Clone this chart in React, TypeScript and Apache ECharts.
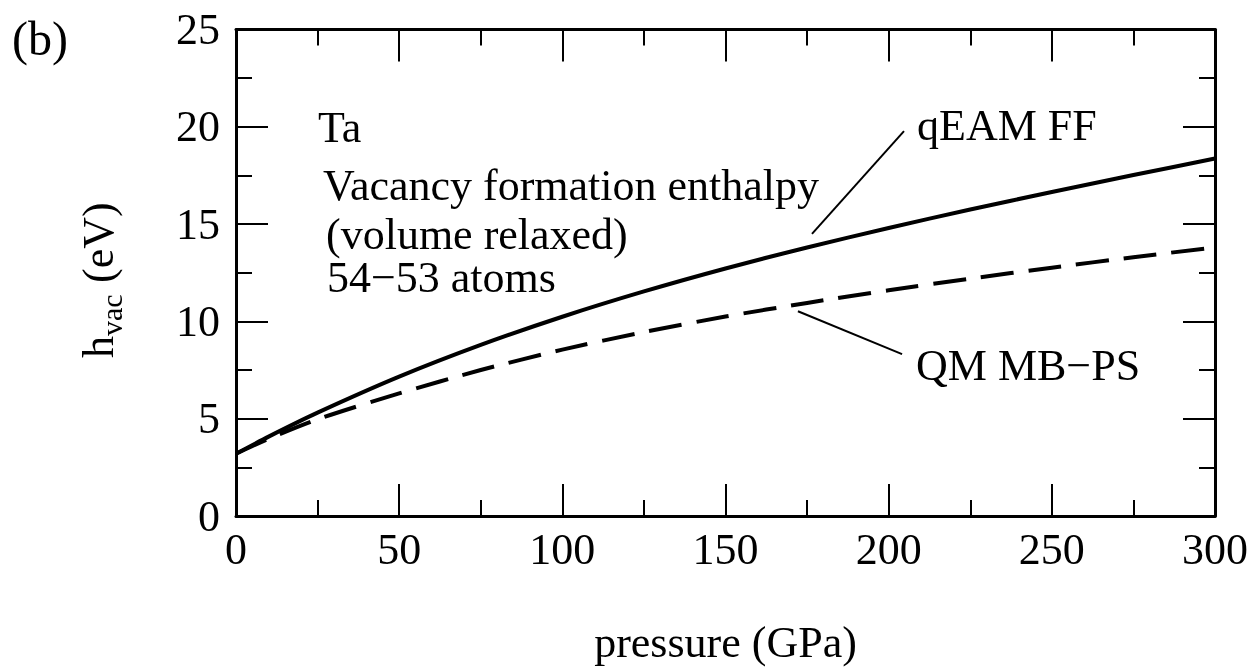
import React, { useEffect, useRef } from "react";
import * as echarts from "echarts";

const pressure = [0, 10, 25, 50, 75, 100, 125, 150, 175, 200, 225, 250, 275, 300];
const qeamFF = [3.2, 4.08, 5.31, 7.16, 8.79, 10.24, 11.54, 12.72, 13.8, 14.8, 15.75, 16.65, 17.52, 18.37];
const qmMBPS = [3.2, 3.97, 4.97, 6.3, 7.5, 8.55, 9.45, 10.25, 10.95, 11.6, 12.2, 12.76, 13.3, 13.8];

const X_MIN = 0, X_MAX = 300, X_STEP = 50;
const Y_MIN = 0, Y_MAX = 25, Y_STEP = 5;

const pointerFF = [[204.7, 19.78], [176.5, 14.5]];
const pointerQM = [[172.2, 10.52], [204.1, 8.32]];

const FONT = "Liberation Serif";
const FS = 44;

function axisParts() {
  return {
    axisLine: { show: true, onZero: false, lineStyle: { color: "#000", width: 3 } },
    axisTick: { show: true, inside: true, length: 32, lineStyle: { color: "#000", width: 2 } },
    minorTick: { show: true, splitNumber: 2, length: 16, lineStyle: { color: "#000", width: 2 } },
    splitLine: { show: false },
  };
}

function makeOption() {
  const txt = (text: string, x: number, baseline: number, size = FS) => ({
    type: "text",
    x,
    y: baseline - 0.3375 * size,
    style: { text, fontSize: size, fontFamily: FONT, fill: "#000", verticalAlign: "middle", align: "left" },
    silent: true,
  });
  return {
    animation: false,
    grid: { left: 236, top: 29.5, right: 40, bottom: 151 },
    xAxis: [
      {
        type: "value", position: "bottom", min: X_MIN, max: X_MAX, interval: X_STEP, ...axisParts(),
        axisLabel: { show: true, margin: 11, fontSize: FS, fontFamily: FONT, color: "#000" },
        name: "pressure (GPa)", nameLocation: "middle", nameGap: 104,
        nameTextStyle: { fontSize: FS, fontFamily: FONT, color: "#000" },
      },
      { type: "value", position: "top", min: X_MIN, max: X_MAX, interval: X_STEP, ...axisParts(), axisLabel: { show: false } },
    ],
    yAxis: [
      {
        type: "value", position: "left", min: Y_MIN, max: Y_MAX, interval: Y_STEP, ...axisParts(),
        axisLabel: { show: true, margin: 16, fontSize: FS, fontFamily: FONT, color: "#000" },
      },
      { type: "value", position: "right", min: Y_MIN, max: Y_MAX, interval: Y_STEP, ...axisParts(), axisLabel: { show: false } },
    ],
    series: [
      {
        name: "qEAM FF", type: "line", data: pressure.map((p, i) => [p, qeamFF[i]]), smooth: 0.25, showSymbol: false,
        lineStyle: { color: "#000", width: 4 },
        markLine: {
          silent: true, symbol: "none", label: { show: false },
          lineStyle: { color: "#000", width: 2, type: "solid" },
          data: [[{ coord: pointerFF[0] }, { coord: pointerFF[1] }]],
        },
      },
      {
        name: "QM MB-PS", type: "line", data: pressure.map((p, i) => [p, qmMBPS[i]]), smooth: 0.25, showSymbol: false,
        lineStyle: { color: "#000", width: 4, type: [33, 15] },
        markLine: {
          silent: true, symbol: "none", label: { show: false },
          lineStyle: { color: "#000", width: 2, type: "solid" },
          data: [[{ coord: pointerQM[0] }, { coord: pointerQM[1] }]],
        },
      },
    ],
    graphic: [
      txt("(b)", 12, 55, 48),
      txt("Ta", 318, 142),
      txt("Vacancy formation enthalpy", 323, 200),
      txt("(volume relaxed)", 326, 249),
      txt("54\u221253 atoms", 327, 292),
      txt("qEAM FF", 917, 140),
      txt("QM MB\u2212PS", 916, 380),
      {
        type: "group", x: 113, y: 278, rotation: Math.PI / 2, silent: true,
        children: [
          { type: "text", x: -80, y: -0.3375 * FS, style: { text: "h", fontSize: FS, fontFamily: FONT, fill: "#000", verticalAlign: "middle" } },
          { type: "text", x: -58, y: 9 - 0.3375 * 30, style: { text: "vac", fontSize: 30, fontFamily: FONT, fill: "#000", verticalAlign: "middle" } },
          { type: "text", x: -16, y: -0.3375 * FS, style: { text: " (eV)", fontSize: FS, fontFamily: FONT, fill: "#000", verticalAlign: "middle" } },
        ],
      },
    ],
  };
}

export default function App() {
  const ref = useRef<HTMLDivElement>(null);
  useEffect(() => {
    if (!ref.current) return;
    const chart = echarts.init(ref.current, null, { renderer: "svg" });
    chart.setOption(makeOption() as any);
    return () => chart.dispose();
  }, []);
  return (
    <div style={{ position: "fixed", left: 0, top: 0, width: 1255, height: 669 }}>
      <div ref={ref} style={{ width: 1255, height: 669 }} />
    </div>
  );
}
